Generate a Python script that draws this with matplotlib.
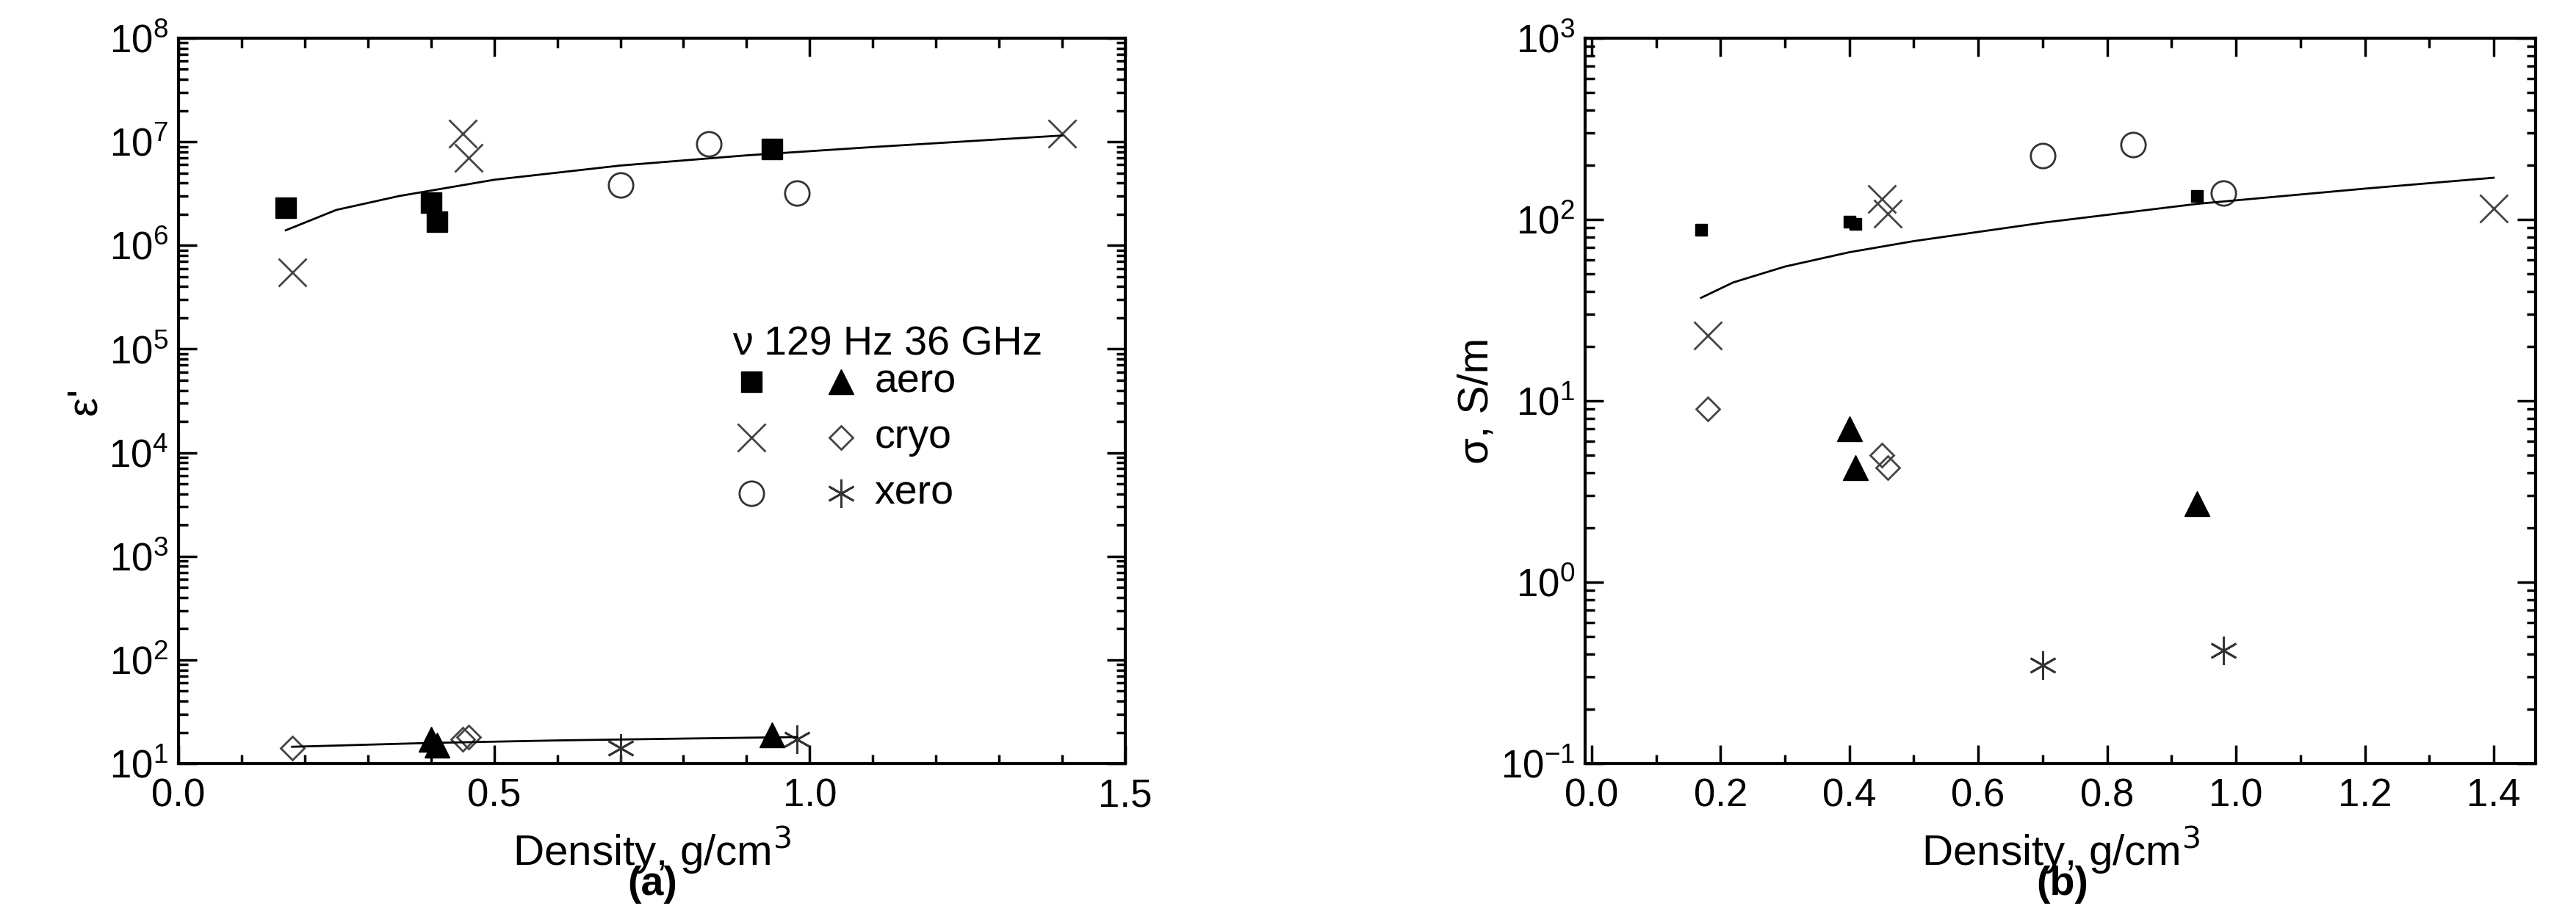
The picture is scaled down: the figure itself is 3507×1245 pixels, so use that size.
import matplotlib
matplotlib.use("Agg")
import matplotlib.pyplot as plt
from matplotlib.ticker import LogLocator, MultipleLocator, NullFormatter

# Panel (a) data: 129 Hz
a_sq_x=[0.17,0.40,0.41,0.94]; a_sq_y=[2.3e6,2.6e6,1.7e6,8.5e6]
a_x_x=[0.18,0.45,0.46,1.40]; a_x_y=[5.5e5,1.2e7,7e6,1.2e7]
a_o_x=[0.70,0.84,0.98]; a_o_y=[3.8e6,9.5e6,3.2e6]
a_fit_x=[0.17,0.25,0.35,0.5,0.7,0.9,1.1,1.4]; a_fit_y=[1.4e6,2.2e6,3.0e6,4.3e6,5.9e6,7.4e6,8.9e6,1.15e7]
# 36 GHz
a_tri_x=[0.40,0.41,0.94]; a_tri_y=[17,15,19]
a_dia_x=[0.18,0.45,0.46]; a_dia_y=[14,17,18]
a_st_x=[0.70,0.98]; a_st_y=[14,17]
a_fit2_x=[0.18,0.4,0.6,0.8,0.98]; a_fit2_y=[14.5,15.8,16.7,17.4,18]

# Panel (b)
b_sq_x=[0.17,0.40,0.41,0.94]; b_sq_y=[88,97,95,135]
b_x_x=[0.18,0.45,0.46,1.40]; b_x_y=[23,130,108,115]
b_o_x=[0.70,0.84,0.98]; b_o_y=[225,260,140]
b_fit_x=[0.17,0.22,0.3,0.4,0.5,0.7,0.94,1.2,1.4]; b_fit_y=[37,45,55,66,76,96,122,148,170]
b_tri_x=[0.40,0.41,0.94]; b_tri_y=[7,4.3,2.7]
b_dia_x=[0.18,0.45,0.46]; b_dia_y=[9,5,4.3]
b_st_x=[0.70,0.98]; b_st_y=[0.35,0.42]

plt.rcParams['font.family']=['Liberation Sans','DejaVu Sans']
fig=plt.figure(figsize=(35.07,12.45),dpi=100)
axa=fig.add_axes([243/3507,1-1040/1245,(1532-243)/3507,(1040-52)/1245])
axb=fig.add_axes([2158/3507,1-1040/1245,(3452-2158)/3507,(1040-52)/1245])

ms=20
def style(ax):
    ax.set_yscale('log')
    ax.tick_params(which='both',direction='in',top=True,right=True,labelsize=38,width=2.5)
    ax.tick_params(axis='x',which='major',pad=14)
    ax.tick_params(axis='y',which='major',pad=10)
    ax.tick_params(which='major',length=18)
    ax.tick_params(which='minor',length=9)
    ax.yaxis.set_minor_locator(LogLocator(base=10,subs=range(2,10),numticks=20))
    ax.yaxis.set_minor_formatter(NullFormatter())
    for s in ax.spines.values(): s.set_linewidth(3)

def mk(ax,x,y,kind,sqsize=ms,**kw):
    if kind=='s': ax.plot(x,y,'s',color='black',ms=sqsize,ls='none',**kw)
    elif kind=='x': ax.plot(x,y,'x',color='#444',ms=28,mew=2,ls='none',**kw)
    elif kind=='o': ax.plot(x,y,'o',mfc='none',mec='#333',ms=24,mew=2,ls='none',**kw)
    elif kind=='^': ax.plot(x,y,'^',color='black',ms=ms+4,ls='none',**kw)
    elif kind=='D': ax.plot(x,y,'D',mfc='none',mec='#444',ms=ms-4,mew=2,ls='none',**kw)
    else: ax.plot(x,y,marker=(6,2,0),color='#333',ms=28,mew=2,ls='none',**kw)

def draw(ax,d,smsq):
    sqx,sqy,xx,xy,ox,oy,tx,ty,dx,dy,sx,sy=d
    mk(ax,sqx,sqy,'s',sqsize=smsq); mk(ax,xx,xy,'x'); mk(ax,ox,oy,'o')
    mk(ax,tx,ty,'^'); mk(ax,dx,dy,'D'); mk(ax,sx,sy,'*')

style(axa)
draw(axa,(a_sq_x,a_sq_y,a_x_x,a_x_y,a_o_x,a_o_y,a_tri_x,a_tri_y,a_dia_x,a_dia_y,a_st_x,a_st_y),ms)
axa.plot(a_fit_x,a_fit_y,'k-',lw=2)
axa.plot(a_fit2_x,a_fit2_y,'k-',lw=2)
axa.set_xlim(0,1.5); axa.set_ylim(10,1e8)
axa.xaxis.set_major_locator(MultipleLocator(0.5)); axa.xaxis.set_minor_locator(MultipleLocator(0.1))
axa.yaxis.set_major_locator(LogLocator(base=10,numticks=20))
axa.set_xlabel('Density, g/cm$^3$',fontsize=42,labelpad=10)
axa.set_ylabel("ε'",fontsize=42)
# legend
axa.text(0.585,0.577,'ν 129 Hz 36 GHz',transform=axa.transAxes,fontsize=40,va='center')
rows=[('aero','s','^'),('cryo','x','D'),('xero','o','*')]
for i,(lab,m1,m2) in enumerate(rows):
    yy=0.526-i*0.077
    mk(axa,[0.605],[yy],m1,transform=axa.transAxes)
    mk(axa,[0.70],[yy],m2,transform=axa.transAxes)
    axa.text(0.735,yy,lab,transform=axa.transAxes,fontsize=40,va='center')

style(axb)
draw(axb,(b_sq_x,b_sq_y,b_x_x,b_x_y,b_o_x,b_o_y,b_tri_x,b_tri_y,b_dia_x,b_dia_y,b_st_x,b_st_y),11)
axb.plot(b_fit_x,b_fit_y,'k-',lw=2)
axb.set_xlim(-0.01,1.465); axb.set_ylim(0.1,1000)
axb.xaxis.set_major_locator(MultipleLocator(0.2)); axb.xaxis.set_minor_locator(MultipleLocator(0.1))
axb.set_xlabel('Density, g/cm$^3$',fontsize=42,labelpad=10)
axb.set_ylabel('σ, S/m',fontsize=42)

fig.text(888/3507,1-1205/1245,'(a)',fontsize=40,fontweight='bold',ha='center',va='center')
fig.text(2808/3507,1-1205/1245,'(b)',fontsize=40,fontweight='bold',ha='center',va='center')
fig.savefig('out.png',dpi=100)
